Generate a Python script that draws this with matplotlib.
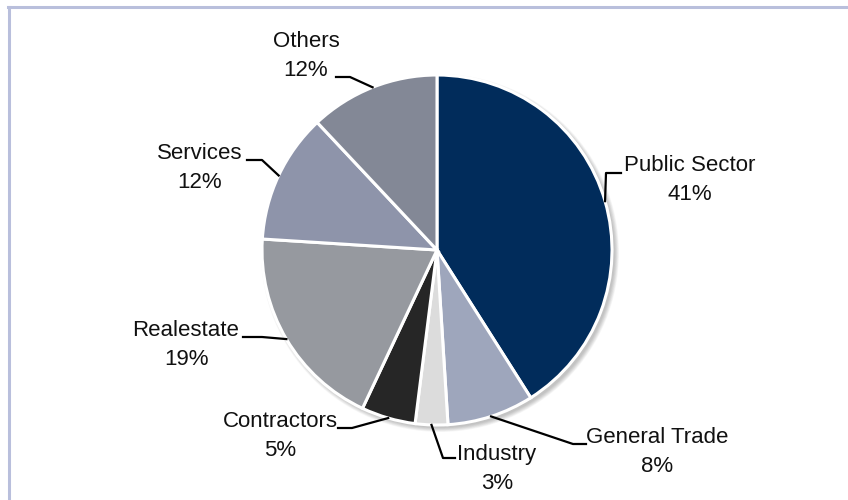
import matplotlib.pyplot as plt
import numpy as np
from matplotlib.lines import Line2D
from matplotlib.patches import Circle

plt.rcParams['font.family'] = ['Liberation Sans Narrow', 'Liberation Sans', 'DejaVu Sans']

# Loan book by sector, clockwise from 12 o'clock
sectors = ['Public Sector', 'General Trade', 'Industry', 'Contractors',
           'Realestate', 'Services', 'Others']
shares = [41, 8, 3, 5, 19, 12, 12]
colors = ['#012c5b', '#9ea6bc', '#dcdcdc', '#262626', '#96999f', '#8e94aa', '#838896']

# label layout in pixels measured from the top-left corner:
# text centre, elbow of the leader, end of the short horizontal tick
label_xy = [(690, 180), (657, 452), (497, 469), (280, 436), (186, 345), (200, 168), (306, 56)]
elbow_xy = [(606, 173), (573, 444), (443, 458), (352, 428), (262, 337), (262, 160), (350, 77)]
tick_end_x = [621, 586, 455, 338, 243, 247, 336]

W, H = 848, 500
cx, cy, r = 437, 250, 175


def fy(y):
    # flip a top-down pixel row into data coordinates
    return H - y


fig = plt.figure(figsize=(W / 100, H / 100), dpi=100)
ax = fig.add_axes([0, 0, 1, 1])

# soft drop shadow under the pie
for k in range(8):
    ax.add_patch(Circle((cx + 3, fy(cy) - 3), r + 4 - k * 0.6,
                        facecolor='black', edgecolor='none', alpha=0.03, zorder=0))

wedges, _ = ax.pie(shares, colors=colors, startangle=90, counterclock=False,
                   center=(cx, fy(cy)), radius=r,
                   wedgeprops=dict(edgecolor='white', linewidth=2.2))

for w, name, pct, (tx, ty), (ex, ey), kx in zip(wedges, sectors, shares,
                                               label_xy, elbow_xy, tick_end_x):
    mid = np.deg2rad((w.theta1 + w.theta2) / 2)
    px = cx + r * np.cos(mid)
    py = fy(cy) + r * np.sin(mid)
    ax.add_line(Line2D([px, ex, kx], [py, fy(ey), fy(ey)],
                       color='black', linewidth=1.6, zorder=5))
    ax.text(tx, fy(ty), f'{name}\n{pct}%', ha='center', va='center',
            multialignment='center', fontsize=16, linespacing=1.55, color='#111111')

ax.set_xlim(0, W)
ax.set_ylim(0, H)
ax.set_aspect('equal')
ax.axis('off')

# thin frame along the top and left edges
frame = '#b9bfdc'
fig.add_artist(Line2D([8 / W, 1], [1 - 6.5 / H, 1 - 6.5 / H], color=frame,
                      linewidth=2.2, transform=fig.transFigure))
fig.add_artist(Line2D([9 / W, 9 / W], [0, 1 - 6.5 / H], color=frame,
                      linewidth=2.2, transform=fig.transFigure))

fig.savefig('out.png', dpi=100)
